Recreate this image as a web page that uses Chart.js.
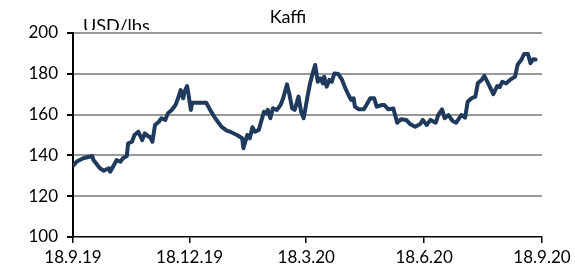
<!DOCTYPE html>
<html>
<head>
<meta charset="utf-8">
<script src="https://cdn.jsdelivr.net/npm/chart.js@4/dist/chart.umd.min.js"></script>
<style>
  html, body { margin: 0; padding: 0; background: #fff; }
</style>
</head>
<body>
<canvas id="chart" width="575" height="270"></canvas>
<script>
var title = 'Kaffi';
var unit = 'USD/lbs';

// days since 18.9.19
var days = [0, 3, 8, 15, 16, 21, 24, 28, 29, 31, 34, 37, 39, 42, 43, 46, 48, 51, 54, 56,
  59, 60, 62, 64, 67, 69, 72, 74, 77, 80, 82, 84, 86, 87, 89, 90, 92, 93, 104, 107,
  111, 113, 116, 120, 123, 128, 132, 133, 136, 138, 140, 142, 145, 149, 151, 152, 154, 156, 159, 162,
  164, 167, 169, 171, 173, 176, 178, 180, 183, 185, 187, 189, 191, 193, 195, 196, 198, 200, 202, 204,
  207, 210, 212, 215, 217, 219, 220, 223, 227, 229, 232, 235, 237, 241, 243, 246, 250, 253, 256, 260,
  263, 267, 271, 273, 276, 279, 283, 285, 288, 290, 293, 296, 299, 303, 306, 308, 311, 314, 316, 319,
  321, 324, 328, 331, 333, 335, 338, 341, 345, 347, 350, 352, 355, 357, 359, 361];

var prices = [134.8, 137, 138.6, 139.7, 137.7, 133.7, 132.5, 133.7, 132, 134.2, 137.7, 136.9, 138.6, 139.7, 145.9, 146.7, 150, 151.6, 147.5, 150.8,
  149.2, 149.2, 146.7, 154.9, 156.5, 158.2, 157.4, 160.6, 162.3, 164.7, 168, 172, 168, 171.2, 174, 170.4, 162.3, 165.8, 165.8, 162.3,
  158.2, 156.5, 154, 152.1, 151.5, 150, 148.4, 143.5, 150, 148.4, 153.8, 151.6, 152.5, 161.4, 160.6, 162.3, 158.2, 163.1, 162.3, 164.7,
  168, 174.8, 169.6, 163.1, 162.3, 168.8, 161.4, 158.2, 168.8, 175.3, 180.2, 184.3, 176.1, 177.8, 175.3, 178.6, 173.7, 177, 176.1, 180.2,
  179.9, 177, 173.7, 169.6, 167.2, 168, 163.9, 162.6, 162.6, 164.7, 168, 168, 163.9, 164.7, 164.7, 162.6, 163, 156, 157.7, 157.4,
  155.4, 154, 155.4, 157.4, 154.9, 157.4, 156, 159.8, 162.6, 158.2, 159.8, 157, 156, 159.8, 158.5, 166.3, 168, 168.8, 175.5, 177,
  179, 175.3, 170, 174, 173.5, 176.1, 175.3, 177, 178.6, 184.5, 187, 189.7, 189.7, 185.2, 187.1, 187];

var tickDays = [0, 91, 182, 274, 366];
var tickLabels = ['18.9.19', '18.12.19', '18.3.20', '18.6.20', '18.9.20'];

var points = [];
for (var i = 0; i < days.length; i++) {
  points.push({x: days[i], y: prices[i]});
}

var textPlugin = {
  id: 'texts',
  afterDraw: function(chart) {
    var ctx = chart.ctx;
    ctx.save();
    ctx.fillStyle = '#000';
    ctx.font = '18px Lato';
    ctx.textAlign = 'center';
    ctx.textBaseline = 'alphabetic';
    ctx.fillText(title, 288, 23);
    // unit label is cut off by the top gridline in the original
    ctx.beginPath();
    ctx.rect(0, 0, 300, 30);
    ctx.clip();
    ctx.textAlign = 'left';
    ctx.fillText(unit, chart.chartArea.left + 10, 32);
    ctx.restore();
  }
};

Chart.defaults.font.family = 'Lato';
Chart.defaults.font.size = 17;
Chart.defaults.color = '#000';

new Chart(document.getElementById('chart').getContext('2d'), {
  type: 'line',
  data: {
    datasets: [{
      data: points,
      borderColor: '#1f3a5c',
      borderWidth: 4,
      borderJoinStyle: 'round',
      borderCapStyle: 'round',
      pointRadius: 0,
      tension: 0,
      fill: false
    }]
  },
  options: {
    responsive: false,
    animation: false,
    layout: {padding: {top: 33, right: 33, left: 0, bottom: 0}},
    plugins: {legend: {display: false}, tooltip: {enabled: false}},
    scales: {
      x: {
        type: 'linear',
        min: 0,
        max: 366,
        afterBuildTicks: function(scale) {
          scale.ticks = tickDays.map(function(v){ return {value: v}; });
        },
        afterFit: function(scale) { scale.height = 33; },
        ticks: {
          autoSkip: false,
          maxRotation: 0,
          padding: 4,
          callback: function(v) { return tickLabels[tickDays.indexOf(v)]; }
        },
        grid: {drawOnChartArea: false, drawTicks: true, tickLength: 6, tickColor: '#000', lineWidth: 1.5},
        border: {color: '#000', width: 1.5}
      },
      y: {
        min: 100,
        max: 200,
        afterFit: function(scale) { scale.width = 73; },
        ticks: {stepSize: 20, padding: 9},
        grid: {
          color: function(c) { return c.tick && c.tick.value === 100 ? 'rgba(0,0,0,0)' : '#999'; },
          lineWidth: 2,
          tickLength: 6,
          tickColor: '#000'
        },
        border: {color: '#000', width: 2}
      }
    }
  },
  plugins: [textPlugin]
});
</script>
</body>
</html>
